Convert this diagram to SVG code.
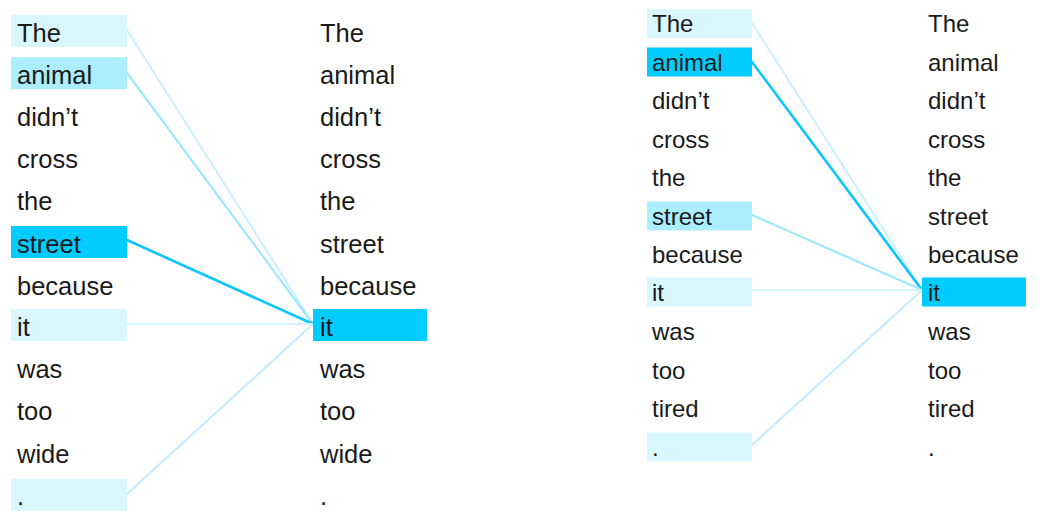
<svg xmlns="http://www.w3.org/2000/svg" width="1047" height="526" viewBox="0 0 1047 526">
<style>
text{font-family:"Liberation Sans",Arial,sans-serif;fill:#1a1a1a}
.a text{font-size:25.5px}
.b text{font-size:24px}
.hi{fill:#00ccff}
.md{fill:#aaeeff}
.lt{fill:#daf6ff}
line{stroke-linecap:round;fill:none}
</style>
<rect width="1047" height="526" fill="#ffffff"/>
<g id="connectors">
<line x1="127" y1="30" x2="313" y2="324" stroke="#c8f1ff" stroke-width="2"/>
<line x1="127" y1="73" x2="313" y2="324" stroke="#9fe6ff" stroke-width="2.2"/>
<line x1="127" y1="240" x2="313" y2="324" stroke="#0cc4ff" stroke-width="2.6"/>
<line x1="127" y1="324" x2="313" y2="324" stroke="#d4f4ff" stroke-width="2"/>
<line x1="127" y1="494" x2="313" y2="324" stroke="#bfeeff" stroke-width="2"/>
<line x1="752" y1="23" x2="922" y2="290" stroke="#c8f1ff" stroke-width="2"/>
<line x1="752" y1="62" x2="922" y2="290" stroke="#0cc4ff" stroke-width="2.6"/>
<line x1="752" y1="215" x2="922" y2="290" stroke="#9fe6ff" stroke-width="2.2"/>
<line x1="752" y1="290" x2="922" y2="290" stroke="#d4f4ff" stroke-width="2"/>
<line x1="752" y1="445" x2="922" y2="290" stroke="#bfeeff" stroke-width="2"/>
</g>
<g class="a">
<g id="L-The"><rect class="lt" x="11" y="15" width="116" height="32"/><text x="17" y="41.5">The</text></g>
<g id="L-animal"><rect class="md" x="11" y="57.2" width="116" height="32"/><text x="17" y="83.7">animal</text></g>
<g id="L-didnt"><text x="17" y="125.9">didn’t</text></g>
<g id="L-cross"><text x="17" y="168.1">cross</text></g>
<g id="L-the"><text x="17" y="210.3">the</text></g>
<g id="L-street"><rect class="hi" x="11" y="226" width="116" height="32"/><text x="17" y="252.5">street</text></g>
<g id="L-because"><text x="17" y="294.7">because</text></g>
<g id="L-it"><rect class="lt" x="11" y="309" width="116" height="32"/><text x="17" y="336">it</text></g>
<g id="L-was"><text x="17" y="378.1">was</text></g>
<g id="L-too"><text x="17" y="420.3">too</text></g>
<g id="L-wide"><text x="17" y="462.5">wide</text></g>
<g id="L-dot"><rect class="lt" x="11" y="479" width="116" height="32"/><text x="17" y="504.7">.</text></g>
<g id="LR-The"><text x="320" y="41.5">The</text></g>
<g id="LR-animal"><text x="320" y="83.7">animal</text></g>
<g id="LR-didnt"><text x="320" y="125.9">didn’t</text></g>
<g id="LR-cross"><text x="320" y="168.1">cross</text></g>
<g id="LR-the"><text x="320" y="210.3">the</text></g>
<g id="LR-street"><text x="320" y="252.5">street</text></g>
<g id="LR-because"><text x="320" y="294.7">because</text></g>
<g id="LR-it"><rect class="hi" x="313" y="309" width="114" height="32"/><text x="320" y="336">it</text></g>
<g id="LR-was"><text x="320" y="378.1">was</text></g>
<g id="LR-too"><text x="320" y="420.3">too</text></g>
<g id="LR-wide"><text x="320" y="462.5">wide</text></g>
<g id="LR-dot"><text x="320" y="504.7">.</text></g>
</g>
<g class="b">
<g id="R-The"><rect class="lt" x="647" y="9" width="105" height="29"/><text x="652" y="32">The</text></g>
<g id="R-animal"><rect class="hi" x="647" y="47.5" width="105" height="29"/><text x="652" y="70.5">animal</text></g>
<g id="R-didnt"><text x="652" y="109">didn’t</text></g>
<g id="R-cross"><text x="652" y="147.5">cross</text></g>
<g id="R-the"><text x="652" y="186">the</text></g>
<g id="R-street"><rect class="md" x="647" y="201.5" width="105" height="29"/><text x="652" y="224.5">street</text></g>
<g id="R-because"><text x="652" y="263">because</text></g>
<g id="R-it"><rect class="lt" x="647" y="277.5" width="105" height="29"/><text x="652" y="301">it</text></g>
<g id="R-was"><text x="652" y="340">was</text></g>
<g id="R-too"><text x="652" y="378.5">too</text></g>
<g id="R-tired"><text x="652" y="417">tired</text></g>
<g id="R-dot"><rect class="lt" x="647" y="432.5" width="105" height="29"/><text x="652" y="455.5">.</text></g>
<g id="RR-The"><text x="928" y="32">The</text></g>
<g id="RR-animal"><text x="928" y="70.5">animal</text></g>
<g id="RR-didnt"><text x="928" y="109">didn’t</text></g>
<g id="RR-cross"><text x="928" y="147.5">cross</text></g>
<g id="RR-the"><text x="928" y="186">the</text></g>
<g id="RR-street"><text x="928" y="224.5">street</text></g>
<g id="RR-because"><text x="928" y="263">because</text></g>
<g id="RR-it"><rect class="hi" x="922" y="277.5" width="104" height="29"/><text x="928" y="301">it</text></g>
<g id="RR-was"><text x="928" y="340">was</text></g>
<g id="RR-too"><text x="928" y="378.5">too</text></g>
<g id="RR-tired"><text x="928" y="417">tired</text></g>
<g id="RR-dot"><text x="928" y="455.5">.</text></g>
</g>
</svg>
